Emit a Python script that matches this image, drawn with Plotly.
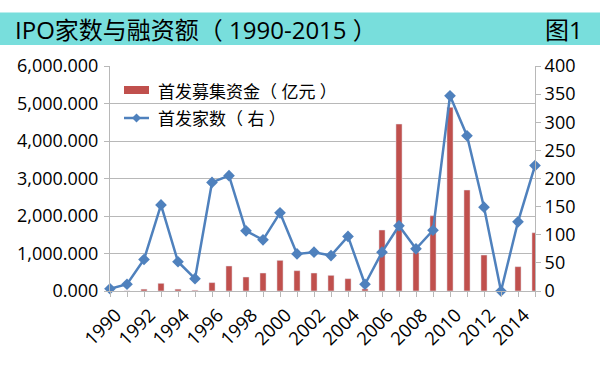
import plotly.graph_objects as go

years = list(range(1990, 2016))
funds = [0, 5, 50, 205, 50, 20, 224, 667, 373, 480, 818, 542, 480, 418, 329, 57,
         1627, 4453, 1034, 2009, 4898, 2693, 960, 0, 649, 1555]
counts = [4, 12, 56, 153, 52, 22, 193, 205, 107, 91, 139, 66, 69, 63, 97, 12,
          69, 116, 75, 108, 347, 276, 149, 0, 123, 223]
left_ticks = [0, 1000, 2000, 3000, 4000, 5000, 6000]
right_ticks = list(range(0, 401, 50))
x_labels = list(range(1990, 2015, 2))
bar_name = "首发募集资金（ 亿元 ）"
line_name = "首发家数（ 右 ）"
title_text = "IPO家数与融资额（ 1990-2015 ）"

FONT = "Open Sans, Noto Sans CJK SC, sans-serif"
BAR = "#C0504D"
LINE = "#4F81BD"
GRID = "#b8b8b8"

fig = go.Figure()
fig.add_trace(go.Bar(x=years, y=funds, name=bar_name, marker_color=BAR,
                     width=0.36, cliponaxis=False, yaxis="y"))
fig.add_trace(go.Scatter(x=years, y=counts, name=line_name, mode="lines+markers",
                         line=dict(color=LINE, width=2.5),
                         marker=dict(symbol="diamond", size=9, color=LINE),
                         yaxis="y2", cliponaxis=False))

W, H = 600, 366
L, R, T, B = 110, 535, 66, 291
pw, ph = R - L, B - T

def px(x):
    return (x - L) / pw

def py(y):
    return (B - y) / ph

# manual legend (decor)
lx0, lx1 = 124, 149
cx, cy2 = (lx0 + lx1) / 2, 118
d = 4.5
diamond = "M {} {} L {} {} L {} {} L {} {} Z".format(
    px(cx), py(cy2 - d), px(cx + d), py(cy2), px(cx), py(cy2 + d), px(cx - d), py(cy2))

shapes = [
    dict(type="rect", xref="paper", yref="paper",
         x0=px(0), x1=px(600), y0=py(45), y1=py(12.5),
         fillcolor="#78DEDC", line=dict(width=0), layer="below"),
    dict(type="rect", xref="paper", yref="paper",
         x0=px(lx0), x1=px(lx1), y0=py(94), y1=py(86),
         fillcolor=BAR, line=dict(width=0)),
    dict(type="line", xref="paper", yref="paper",
         x0=px(lx0), x1=px(lx1), y0=py(cy2), y1=py(cy2),
         line=dict(color=LINE, width=2.5)),
    dict(type="path", xref="paper", yref="paper", path=diamond,
         fillcolor=LINE, line=dict(width=0)),
]

fig.update_layout(
    width=W, height=H,
    margin=dict(l=L, r=W - R, t=T, b=H - B, autoexpand=False),
    paper_bgcolor="white", plot_bgcolor="white",
    font=dict(family=FONT, size=17, color="#000000"),
    showlegend=False,
    bargap=0.6,
    xaxis=dict(range=[1990, 2015], tickvals=x_labels, ticktext=[str(v) for v in x_labels],
               tickangle=-45, ticks="outside", ticklen=5, tickcolor=GRID,
               showline=True, linecolor=GRID, linewidth=1, showgrid=False,
               zeroline=False, tickfont=dict(size=18.5), automargin=False,
               ticklabelshift=6,
               minor=dict(dtick=1, tick0=1990, ticks="outside", ticklen=5, tickcolor=GRID,
                          showgrid=False)),
    yaxis=dict(range=[0, 6000], tickvals=left_ticks, tickformat=",.3f",
               showgrid=True, gridcolor=GRID, gridwidth=1, automargin=False,
               showline=True, linecolor=GRID, ticks="outside", ticklen=5,
               tickcolor=GRID, zeroline=False, tickfont=dict(size=18),
               ticklabelstandoff=2),
    yaxis2=dict(range=[0, 400], tickvals=right_ticks, overlaying="y", side="right",
                showgrid=False, showline=True, linecolor=GRID, ticks="outside",
                ticklen=5, tickcolor=GRID, zeroline=False, tickfont=dict(size=18),
                automargin=False),
    shapes=shapes,
    annotations=[
        dict(text=title_text, xref="paper", yref="paper",
             x=px(13), y=py(29), xanchor="left", yanchor="middle", showarrow=False,
             font=dict(size=24, color="#000000", family=FONT)),
        dict(text="图1", xref="paper", yref="paper",
             x=px(585), y=py(29), xanchor="right", yanchor="middle", showarrow=False,
             font=dict(size=24, color="#000000", family=FONT)),
        dict(text=bar_name, xref="paper", yref="paper",
             x=px(156), y=py(91), xanchor="left", yanchor="middle", showarrow=False,
             font=dict(size=17, color="#000000", family=FONT)),
        dict(text=line_name, xref="paper", yref="paper",
             x=px(156), y=py(118), xanchor="left", yanchor="middle", showarrow=False,
             font=dict(size=17, color="#000000", family=FONT)),
    ],
)

fig.write_html("out.html", config={"displayModeBar": False},
               post_script="document.body.style.margin='0';")
